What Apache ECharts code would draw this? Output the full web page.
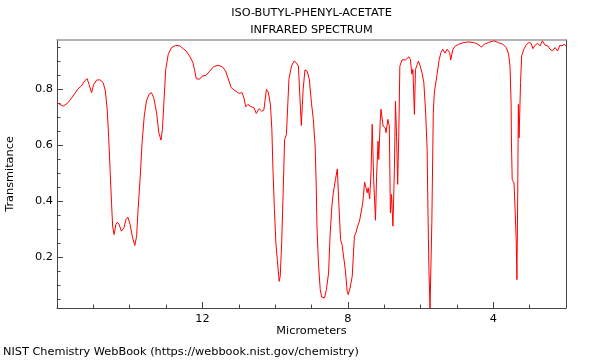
<!DOCTYPE html>
<html>
<head>
<meta charset="utf-8">
<script src="https://cdn.jsdelivr.net/npm/echarts@6/dist/echarts.min.js"></script>
<style>html,body{margin:0;padding:0;background:#fff}#c{width:600px;height:360px}</style>
</head>
<body>
<div id="c"></div>
<script>
const titleLines = ['ISO-BUTYL-PHENYL-ACETATE', 'INFRARED SPECTRUM'];
const xName = 'Micrometers';
const yName = 'Transmitance';
const credit = 'NIST Chemistry WebBook (https://webbook.nist.gov/chemistry)';
const xMajorTicks = [4, 8, 12];
const xMinorTicks = [3, 5, 6, 7, 9, 10, 11, 13, 14, 15];
const yMajorTicks = [0.2, 0.4, 0.6, 0.8];
const yMinorTicks = [0.05, 0.1, 0.15, 0.25, 0.3, 0.35, 0.45, 0.5, 0.55, 0.65, 0.7, 0.75, 0.85, 0.9, 0.95];
const xRange = [2, 16];
const yRange = [0.02, 0.976];

const wavelength = [
16.00,15.83,15.70,15.56,15.42,15.33,15.24,15.17,15.12,15.05,14.99,14.91,14.82,14.73,14.67,14.62,14.58,14.54,14.50,14.47,
14.43,14.38,14.34,14.29,14.23,14.16,14.10,14.05,13.99,13.92,13.86,13.81,13.77,13.71,13.66,13.60,13.54,13.47,13.40,13.34,
13.26,13.20,13.14,13.10,13.05,13.01,12.94,12.85,12.74,12.62,12.53,12.45,12.34,12.26,12.21,12.17,12.08,12.01,11.90,11.80,
11.69,11.57,11.45,11.36,11.30,11.21,11.09,11.00,10.91,10.86,10.81,10.75,10.66,10.58,10.52,10.44,10.37,10.31,10.24,10.19,
10.13,10.09,10.06,10.02,9.98,9.94,9.89,9.86,9.82,9.78,9.74,9.69,9.65,9.62,9.55,9.48,9.42,9.36,9.32,9.28,
9.23,9.18,9.12,9.06,9.00,8.95,8.90,8.87,8.85,8.81,8.76,8.72,8.64,8.59,8.53,8.49,8.44,8.40,8.34,8.29,
8.25,8.20,8.16,8.11,8.07,8.02,7.99,7.94,7.88,7.82,7.78,7.73,7.68,7.63,7.59,7.54,7.50,7.47,7.44,7.40,
7.36,7.33,7.29,7.24,7.21,7.17,7.15,7.11,7.09,7.03,6.97,6.95,6.90,6.86,6.83,6.80,6.76,6.72,6.69,6.66,
6.63,6.60,6.57,6.51,6.46,6.41,6.37,6.32,6.28,6.24,6.21,6.17,6.14,6.09,6.06,6.01,5.96,5.91,5.86,5.82,
5.80,5.77,5.74,5.71,5.69,5.65,5.62,5.55,5.49,5.44,5.39,5.33,5.27,5.20,5.17,5.11,5.04,4.95,4.81,4.67,
4.54,4.42,4.33,4.24,4.13,3.99,3.86,3.74,3.64,3.58,3.54,3.51,3.50,3.48,3.43,3.40,3.37,3.35,3.33,3.31,
3.29,3.27,3.25,3.22,3.16,3.10,3.03,2.96,2.91,2.85,2.78,2.71,2.65,2.57,2.50,2.44,2.37,2.30,2.23,2.17,
2.11,2.05,2.00
];
const transmittance = [
0.752,0.740,0.752,0.776,0.802,0.812,0.830,0.838,0.818,0.788,0.818,0.833,0.834,0.824,0.794,0.729,0.633,0.514,0.395,0.312,
0.282,0.318,0.326,0.318,0.294,0.306,0.336,0.344,0.318,0.270,0.243,0.276,0.371,0.490,0.609,0.705,0.758,0.782,0.788,0.770,
0.716,0.645,0.619,0.657,0.776,0.871,0.925,0.949,0.957,0.955,0.945,0.937,0.916,0.895,0.865,0.838,0.836,0.847,0.850,0.865,
0.881,0.886,0.880,0.865,0.841,0.806,0.794,0.786,0.788,0.770,0.738,0.746,0.738,0.734,0.714,0.731,0.722,0.726,0.800,0.790,
0.746,0.657,0.514,0.371,0.252,0.193,0.115,0.133,0.252,0.431,0.621,0.639,0.752,0.836,0.883,0.901,0.895,0.883,0.776,0.671,
0.800,0.869,0.865,0.836,0.750,0.693,0.598,0.455,0.312,0.181,0.086,0.059,0.056,0.086,0.145,0.276,0.383,0.431,0.479,0.516,
0.395,0.264,0.246,0.240,0.157,0.080,0.068,0.091,0.133,0.276,0.288,0.312,0.330,0.324,0.395,0.469,0.449,0.431,0.449,0.409,
0.514,0.675,0.479,0.333,0.490,0.615,0.550,0.687,0.729,0.669,0.663,0.645,0.693,0.669,0.359,0.425,0.312,0.514,0.758,0.633,
0.461,0.633,0.883,0.905,0.909,0.905,0.909,0.916,0.907,0.854,0.871,0.711,0.871,0.889,0.901,0.883,0.859,0.824,0.716,0.586,
0.395,0.157,0.020,0.026,0.324,0.716,0.790,0.850,0.905,0.931,0.943,0.929,0.943,0.931,0.905,0.943,0.955,0.961,0.967,0.969,
0.967,0.961,0.951,0.961,0.967,0.973,0.967,0.961,0.949,0.925,0.883,0.752,0.609,0.479,0.466,0.371,0.264,0.121,0.395,0.746,
0.627,0.729,0.824,0.919,0.943,0.957,0.967,0.964,0.945,0.957,0.964,0.955,0.973,0.957,0.955,0.943,0.937,0.949,0.937,0.957,
0.955,0.961,0.955
];

const FONT = 'DejaVu Sans';
const FS = 11.3;
const chart = echarts.init(document.getElementById('c'), null, {renderer: 'canvas'});
const pts = wavelength.map((w, i) => [w, transmittance[i]]);
const axisDark = '#444444';
const baseX = {type: 'value', min: xRange[0], max: xRange[1], inverse: true, splitLine: {show: false}, gridIndex: 0};
const baseY = {type: 'value', min: yRange[0], max: yRange[1], splitLine: {show: false}, gridIndex: 0};
const txt = (s, x, y, align, rot) => ({type: 'text', x: x, y: y, rotation: rot || 0,
  style: {text: s, font: FS + 'px "' + FONT + '"', fill: '#000', align: align, verticalAlign: 'middle'}});
chart.setOption({
  animation: false,
  backgroundColor: '#fff',
  grid: {left: 57, right: 34, top: 40, bottom: 52, containLabel: false},
  graphic: [
    txt(titleLines[0], 311.5, 13, 'center'),
    txt(titleLines[1], 311.5, 30, 'center'),
    txt(xName, 311.5, 331, 'center'),
    txt(yName, 10, 174, 'center', Math.PI / 2),
    txt(credit, 3, 352, 'left')
  ],
  xAxis: [
    Object.assign({}, baseX, {position: 'bottom',
      axisLine: {show: true, lineStyle: {color: axisDark, width: 1}},
      axisTick: {show: true, inside: true, length: 6, customValues: xMajorTicks, lineStyle: {color: axisDark}},
      axisLabel: {show: true, customValues: xMajorTicks, margin: 6, color: '#000', fontFamily: FONT, fontSize: FS}}),
    Object.assign({}, baseX, {position: 'bottom',
      axisLine: {show: false},
      axisTick: {show: true, inside: true, length: 3.5, customValues: xMinorTicks, lineStyle: {color: axisDark}},
      axisLabel: {show: false}}),
    Object.assign({}, baseX, {position: 'top',
      axisLine: {show: true, lineStyle: {color: '#9a9a9a', width: 1.5}},
      axisTick: {show: false}, axisLabel: {show: false}})
  ],
  yAxis: [
    Object.assign({}, baseY, {position: 'left',
      axisLine: {show: true, lineStyle: {color: axisDark, width: 1}},
      axisTick: {show: true, inside: true, length: 6, customValues: yMajorTicks, lineStyle: {color: axisDark}},
      axisLabel: {show: true, customValues: yMajorTicks, margin: 4, color: '#000', fontFamily: FONT, fontSize: FS,
        formatter: v => v.toFixed(1)}}),
    Object.assign({}, baseY, {position: 'left',
      axisLine: {show: false},
      axisTick: {show: true, inside: true, length: 3.5, customValues: yMinorTicks, lineStyle: {color: axisDark}},
      axisLabel: {show: false}}),
    Object.assign({}, baseY, {position: 'right',
      axisLine: {show: true, lineStyle: {color: axisDark, width: 1}},
      axisTick: {show: false}, axisLabel: {show: false}})
  ],
  series: [{
    type: 'line', xAxisIndex: 0, yAxisIndex: 0, data: pts, showSymbol: false, symbol: 'none',
    lineStyle: {color: '#ff0000', width: 1}, silent: true, clip: true
  }]
});
</script>
</body>
</html>
